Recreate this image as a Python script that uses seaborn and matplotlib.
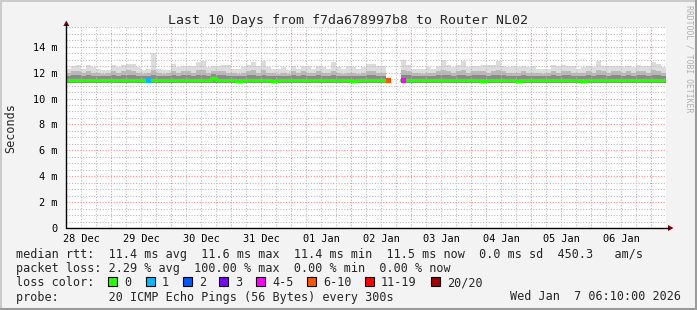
import numpy as np
import pandas as pd
import matplotlib
matplotlib.use("Agg")
import matplotlib.pyplot as plt
import matplotlib.dates as mdates
import matplotlib.ticker as mticker
from matplotlib.patches import Rectangle, Polygon
from matplotlib.lines import Line2D
import seaborn as sns

# ---------------- data ----------------
start_time = "2025-12-28 06:10"
bin_hours = 2
n_bins = 120

nan = np.nan
# max ping (top of the light smoke)
smoke_hi = [
    12.3, 12.5, 12.6, 12.3, 12.6, 12.4, 12.3, 12.2, 12.2, 12.6,
    12.4, 12.6, 12.7, 12.7, 12.4, 12.2, 12.3, 13.5, 12.3, 12.2,
    12.2, 12.7, 12.4, 12.5, 12.5, 12.5, 12.8, 12.9, 12.4, 12.5,
    12.5, 12.6, 12.6, 12.3, 12.3, 12.4, 12.6, 12.8, 12.5, 12.9,
    12.4, 12.3, 12.3, 12.4, 12.2, 12.5, 12.3, 12.5, 12.5, 12.3,
    12.5, 12.4, 12.3, 12.8, 12.4, 12.3, 12.5, 12.4, 12.3, 12.4,
    12.7, 12.7, 12.5, 12.5, 12.6, nan, nan, 13.0, 12.6, 12.3,
    12.3, 12.3, 12.4, 12.3, 12.5, 13.0, 12.6, 12.4, 12.6, 12.9,
    12.4, 12.5, 12.5, 12.6, 12.6, 12.6, 12.9, 12.5, 12.4, 12.5,
    12.4, 12.5, 12.4, 12.5, 12.3, 12.3, 12.3, 12.6, 12.5, 12.6,
    12.5, 12.5, 12.3, 12.4, 12.5, 12.4, 12.9, 12.5, 12.5, 12.5,
    12.5, 12.4, 12.5, 12.4, 12.6, 12.5, 12.5, 12.8, 12.7, 12.4,
]
# upper middle of the smoke (medium gray)
smoke_mid = [
    12.0, 12.1, 12.1, 12.0, 12.1, 12.0, 12.0, 11.9, 12.0, 12.1,
    12.0, 12.1, 12.2, 12.1, 12.0, 11.9, 12.0, 12.2, 12.0, 11.9,
    12.0, 12.1, 12.0, 12.1, 12.1, 12.0, 12.2, 12.2, 12.0, 12.1,
    12.1, 12.1, 12.0, 12.0, 11.9, 12.0, 12.1, 12.2, 12.0, 12.2,
    12.0, 12.0, 11.9, 12.0, 11.9, 12.1, 12.0, 12.1, 12.0, 12.0,
    12.1, 12.0, 12.0, 12.1, 12.0, 11.9, 12.0, 12.0, 11.9, 12.0,
    12.1, 12.1, 12.0, 12.0, 12.1, nan, nan, 12.2, 12.1, 12.0,
    12.0, 11.9, 12.0, 12.0, 12.1, 12.2, 12.1, 12.0, 12.1, 12.2,
    12.0, 12.1, 12.1, 12.1, 12.0, 12.1, 12.2, 12.1, 12.0, 12.0,
    12.0, 12.1, 12.0, 12.0, 12.0, 11.9, 12.0, 12.1, 12.0, 12.1,
    12.1, 12.0, 12.0, 12.0, 12.1, 12.0, 12.2, 12.1, 12.0, 12.1,
    12.1, 12.0, 12.1, 12.0, 12.1, 12.1, 12.0, 12.2, 12.1, 12.0,
]
# dark smoke just around the median
smoke_q3 = [
    11.76, 11.78, 11.80, 11.76, 11.78, 11.76, 11.74, 11.72, 11.76, 11.80,
    11.76, 11.78, 11.82, 11.80, 11.76, 11.72, 11.76, 11.84, 11.76, 11.74,
    11.76, 11.80, 11.76, 11.78, 11.78, 11.76, 11.82, 11.84, 11.76, 11.86,
    11.78, 11.80, 11.76, 11.76, 11.74, 11.76, 11.78, 11.82, 11.76, 11.82,
    11.76, 11.76, 11.74, 11.76, 11.72, 11.78, 11.76, 11.78, 11.76, 11.76,
    11.78, 11.76, 11.76, 11.80, 11.76, 11.74, 11.76, 11.76, 11.74, 11.76,
    11.80, 11.80, 11.76, 11.76, 11.78, nan, nan, 11.84, 11.78, 11.76,
    11.76, 11.74, 11.76, 11.76, 11.78, 11.82, 11.78, 11.76, 11.78, 11.82,
    11.76, 11.78, 11.78, 11.78, 11.76, 11.78, 11.82, 11.78, 11.76, 11.76,
    11.76, 11.78, 11.76, 11.76, 11.76, 11.74, 11.76, 11.78, 11.76, 11.78,
    11.78, 11.76, 11.76, 11.76, 11.78, 11.76, 11.82, 11.78, 11.76, 11.78,
    11.78, 11.76, 11.78, 11.76, 11.78, 11.78, 11.76, 11.82, 11.78, 11.76,
]
smoke_lo = 11.2
median_rtt = [
    11.40, 11.40, 11.42, 11.40, 11.40, 11.40, 11.40, 11.42, 11.40, 11.40,
    11.40, 11.40, 11.40, 11.42, 11.40, 11.40, 11.42, 11.40, 11.40, 11.40,
    11.40, 11.40, 11.42, 11.40, 11.40, 11.40, 11.40, 11.40, 11.42, 11.62,
    11.42, 11.40, 11.40, 11.40, 11.39, 11.40, 11.40, 11.42, 11.40, 11.40,
    11.40, 11.39, 11.40, 11.40, 11.40, 11.40, 11.40, 11.42, 11.40, 11.40,
    11.40, 11.40, 11.40, 11.40, 11.42, 11.40, 11.40, 11.39, 11.40, 11.40,
    11.42, 11.40, 11.40, 11.40, 11.40, nan, nan, 11.40, 11.42, 11.40,
    11.40, 11.40, 11.40, 11.40, 11.40, 11.42, 11.40, 11.40, 11.40, 11.42,
    11.40, 11.40, 11.40, 11.39, 11.40, 11.40, 11.42, 11.40, 11.40, 11.40,
    11.39, 11.40, 11.40, 11.40, 11.40, 11.40, 11.40, 11.42, 11.40, 11.40,
    11.40, 11.40, 11.40, 11.39, 11.40, 11.40, 11.42, 11.40, 11.40, 11.40,
    11.40, 11.40, 11.40, 11.40, 11.42, 11.40, 11.40, 11.40, 11.42, 11.40,
]
# lost pings out of 20 per bin
loss_count = [0] * 120
loss_count[16] = 1
loss_count[64] = 7
loss_count[65] = 20
loss_count[66] = 20
loss_count[67] = 4

loss_labels = ["0", "1", "2", "3", "4-5", "6-10", "11-19", "20/20"]
loss_colors = ["#26ff00", "#00b8ff", "#0059ff", "#7e00ff",
               "#ff00ff", "#ff5500", "#ff0000", "#a10000"]
loss_upper = [0, 1, 2, 3, 5, 10, 19, 20]

y_ticks = [0, 2, 4, 6, 8, 10, 12, 14]
y_tick_labels = ["0", "2 m", "4 m", "6 m", "8 m", "10 m", "12 m", "14 m"]

title = "Last 10 Days from f7da678997b8 to Router NL02"
ylabel = "Seconds"
line_rtt = "median rtt:  11.4 ms avg  11.6 ms max  11.4 ms min  11.5 ms now  0.0 ms sd  450.3   am/s"
line_loss = "packet loss: 2.29 % avg  100.00 % max  0.00 % min  0.00 % now"
line_color = "loss color:"
line_probe = "probe:       20 ICMP Echo Pings (56 Bytes) every 300s"
stamp = "Wed Jan  7 06:10:00 2026"
watermark = "RRDTOOL / TOBI OETIKER"

# ---------------- build frame ----------------
edges = pd.date_range(start_time, periods=n_bins + 1, freq=f"{bin_hours}h")
def pad(a):
    a = list(a)
    return np.array(a + [a[-1]], dtype=float)

df = pd.DataFrame({
    "time": edges,
    "hi": pad(smoke_hi),
    "mid": pad(smoke_mid),
    "q3": pad(smoke_q3),
    "median": pad(median_rtt),
})
df["segment"] = df["median"].isna().cumsum()
df_line = df.dropna(subset=["median"])

def loss_class(c):
    for lab, up in zip(loss_labels, loss_upper):
        if c <= up:
            return lab
    return loss_labels[-1]

centers = edges[:-1] + pd.Timedelta(hours=bin_hours / 2)
pts = pd.DataFrame({"time": centers, "median": median_rtt,
                    "loss": [loss_class(c) for c in loss_count],
                    "count": loss_count})
pts = pts[(pts["count"] > 0) & pts["median"].notna()]

# ---------------- figure ----------------
sns.set_style("white")
plt.rcParams["font.family"] = ["DejaVu Sans Mono", "DejaVu Sans"]

W, H = 697, 310
fig = plt.figure(figsize=(W / 100, H / 100), dpi=100, facecolor="#f3f3f3")

def fx(x):
    return x / W
def fy(y):
    return 1 - y / H

ax_left, ax_right, ax_top, ax_bot = 66.3, 666.3, 27.3, 228.0
ax = fig.add_axes([fx(ax_left), fy(ax_bot), (ax_right - ax_left) / W, (ax_bot - ax_top) / H])
ax.set_facecolor("#ffffff")

t = df["time"].to_numpy()
ax.fill_between(t, smoke_lo, df["hi"], step="post", color="#dcdcdc", lw=0, zorder=1)
ax.fill_between(t, smoke_lo, df["mid"], step="post", color="#bababa", lw=0, zorder=1.1)
ax.fill_between(t, smoke_lo, df["q3"], step="post", color="#8a8a8a", lw=0, zorder=1.2)

sns.lineplot(data=df_line, x="time", y="median", units="segment", estimator=None,
             drawstyle="steps-post", color=loss_colors[0], lw=2.5, ax=ax,
             zorder=3, legend=False)
sns.scatterplot(data=pts, x="time", y="median", hue="loss",
                palette=dict(zip(loss_labels, loss_colors)), marker="s", s=14,
                linewidth=0, legend=False, ax=ax, zorder=4)

ax.set_xlim(pd.Timestamp(start_time), edges[-1])
ax.set_ylim(0, 15.5)

ax.xaxis.set_major_locator(mdates.DayLocator())
ax.xaxis.set_major_formatter(mticker.NullFormatter())
ax.xaxis.set_minor_locator(mdates.HourLocator(byhour=[0, 6, 12, 18]))
def xfmt(v, pos):
    d = mdates.num2date(v)
    return d.strftime("%d %b") if d.hour == 12 else ""
ax.xaxis.set_minor_formatter(mticker.FuncFormatter(xfmt))

ax.yaxis.set_major_locator(mticker.FixedLocator(y_ticks))
ax.yaxis.set_major_formatter(mticker.FixedFormatter(y_tick_labels))
ax.yaxis.set_minor_locator(mticker.MultipleLocator(0.5))

ax.set_axisbelow(False)
ax.grid(which="major", color="#ff9090", ls=(0, (1, 1.5)), lw=0.8)
ax.grid(which="minor", color="#bcbcbc", ls=(0, (1, 1.5)), lw=0.8)
ax.tick_params(which="both", length=0)
ax.tick_params(axis="y", which="major", labelsize=7.4, pad=6.5, colors="#000000")
ax.tick_params(axis="x", which="minor", labelsize=7.4, pad=4.5, colors="#000000")
ax.set_xlabel("")
ax.set_ylabel("")
for s in ax.spines.values():
    s.set_visible(False)

# axes lines with arrows
axis_col = "#000000"
arrow_col = "#8b0000"
fig.add_artist(Line2D([fx(ax_left), fx(ax_left)], [fy(ax_bot), fy(24)], color=axis_col, lw=1.0))
fig.add_artist(Line2D([fx(ax_left), fx(669)], [fy(ax_bot), fy(ax_bot)], color=axis_col, lw=1.0))
fig.add_artist(Polygon([[fx(ax_left - 3), fy(26)], [fx(ax_left + 3), fy(26)], [fx(ax_left), fy(20.5)]],
                       closed=True, color=arrow_col, lw=0))
fig.add_artist(Polygon([[fx(668), fy(ax_bot - 3)], [fx(668), fy(ax_bot + 3)], [fx(673.5), fy(ax_bot)]],
                       closed=True, color=arrow_col, lw=0))

# texts
fig.text(fx(348.5), fy(24), title, ha="center", va="baseline", fontsize=9.5)
fig.text(fx(11), fy(128), ylabel, ha="center", va="center", rotation=90, fontsize=8.5)
fig.text(fx(688.5), fy(5), watermark, ha="center", va="top", rotation=270,
         fontsize=5.9, color="#b0b0b0")

fs = 8.5
fig.text(fx(16), fy(258.3), line_rtt, ha="left", va="baseline", fontsize=fs)
fig.text(fx(16), fy(272.3), line_loss, ha="left", va="baseline", fontsize=fs)
fig.text(fx(16), fy(286.3), line_color, ha="left", va="baseline", fontsize=fs)
fig.text(fx(16), fy(300.5), line_probe, ha="left", va="baseline", fontsize=fs)
fig.text(fx(681), fy(300.5), stamp, ha="right", va="baseline", fontsize=fs)

box_x = [108, 146, 183, 219, 256, 307, 365, 431]
for bx, lab, col in zip(box_x, loss_labels, loss_colors):
    fig.add_artist(Rectangle((fx(bx), fy(286)), 9 / W, 9 / H, facecolor=col,
                             edgecolor="#000000", lw=0.8))
    fig.text(fx(bx + 16), fy(286.3), lab, ha="left", va="baseline", fontsize=fs)

# 3D frame
fig.add_artist(Line2D([0, 1], [fy(0.5), fy(0.5)], color="#cbcbcb", lw=1.5))
fig.add_artist(Line2D([fx(0.5), fx(0.5)], [0, 1], color="#cbcbcb", lw=1.5))
fig.add_artist(Line2D([0, 1], [fy(309), fy(309)], color="#9c9c9c", lw=2.2))
fig.add_artist(Line2D([fx(696), fx(696)], [0, 1], color="#9c9c9c", lw=2.2))

fig.savefig("out.png", dpi=100, facecolor=fig.get_facecolor())
